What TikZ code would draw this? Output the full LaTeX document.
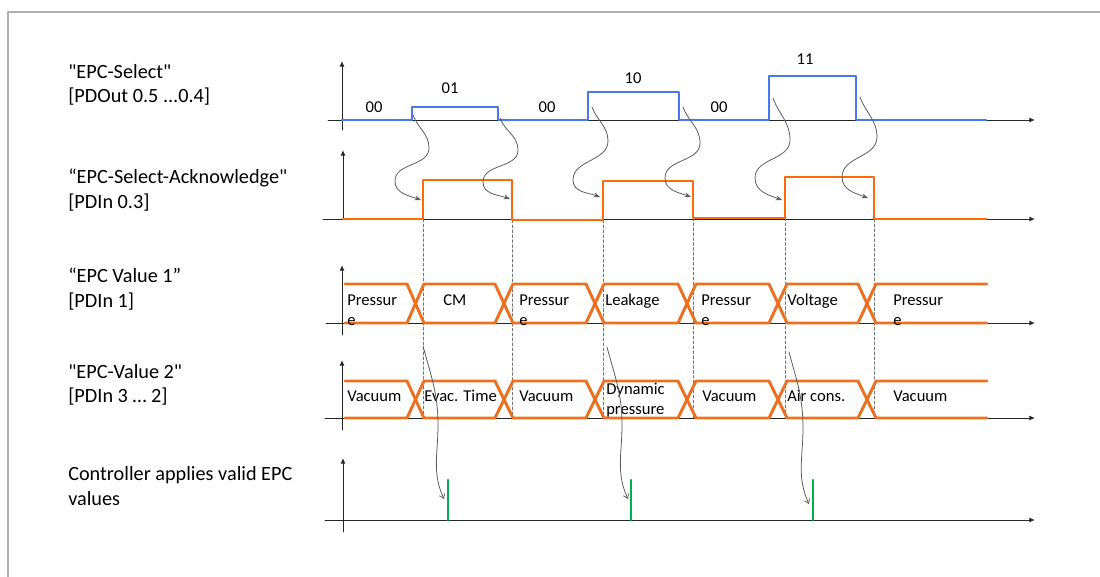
\documentclass[tikz,border=0pt]{standalone}
\usepackage{fontspec}
\setmainfont{Carlito}[Ligatures=TeXOff]
\usetikzlibrary{arrows.meta}
\definecolor{selblue}{RGB}{70,120,240}
\definecolor{ackorange}{RGB}{255,105,10}
\definecolor{busorange}{RGB}{236,112,32}
\definecolor{applygreen}{RGB}{0,176,80}
\definecolor{framegray}{RGB}{175,175,175}
\newcommand\namefont{\fontsize{14.4}{17.5}\selectfont}
\newcommand\wavefont{\fontsize{11.8}{14.2}\selectfont}
\tikzset{frame/.style={draw=framegray,line width=1pt},
 timeaxis/.style={draw=black!85,line width=.7pt,-{Latex[length=4pt,width=3.5pt]}},
 guide/.style={draw=black!55,line width=.5pt,dash pattern=on 2pt off 1.5pt},
 selwave/.style={draw=selblue,line width=1.8pt},
 ackwave/.style={draw=ackorange,line width=2.1pt},
 bus/.style={draw=busorange,line width=2.1pt},
 pulse/.style={draw=applygreen,line width=1.5pt},
 cause/.style={draw=black!65,line width=.55pt,-{Stealth[length=4.5pt,width=3.5pt]}},
 apply/.style={draw=black!65,line width=.55pt,-{Straight Barb[length=3pt,width=4pt]}},
 signame/.style={font=\namefont,align=left,inner sep=0pt,anchor=west},
 wavetext/.style={font=\wavefont,inner sep=0pt,anchor=base west},
 wavetwo/.style={font=\wavefont,align=left,inner sep=0pt,anchor=west},
 bitval/.style={font=\wavefont,inner sep=0pt,anchor=base},
 every picture/.style={line join=round,line cap=round}}
\begin{document}
\begin{tikzpicture}[x=0.025cm,y=-0.025cm]
\useasboundingbox (0,0) rectangle (1100,577);
\draw[frame] (1100,12) -- (8,12) -- (8,577);
% signal names
\node[signame] (nSel) at (68,85) {"EPC-Select"\\{[PDOut 0.5 ...0.4]}};
\node[signame] (nAck) at (68,190) {“EPC-Select-Acknowledge"\\{[PDIn 0.3]}};
\node[signame] (nVal1) at (68,289) {“EPC Value 1”\\{[PDIn 1]}};
\node[signame] (nVal2) at (68,385) {"EPC-Value 2"\\{[PDIn 3 … 2]}};
\node[signame] (nCtrl) at (68,486) {Controller applies valid EPC\\values};
% axes
\draw[timeaxis] (342,130) -- (342,61);
\draw[timeaxis] (328,120) -- (1035,120);
\draw[timeaxis] (343,219) -- (343,150);
\draw[timeaxis] (323,219) -- (1035,219);
\draw[timeaxis] (342,335) -- (342,265);
\draw[timeaxis] (326,323) -- (1035,323);
\draw[timeaxis] (342,430) -- (342,360);
\draw[timeaxis] (325,418) -- (1035,418);
\draw[timeaxis] (343,532) -- (343,458);
\draw[timeaxis] (325,520) -- (1035,520);
% acknowledge edges
\draw[guide] (423,219) -- (423,414);
\draw[guide] (512,220) -- (512,418);
\draw[guide] (603,220) -- (603,418);
\draw[guide] (693,218) -- (693,418);
\draw[guide] (785,218) -- (785,418);
\draw[guide] (874,219) -- (874,418);
% EPC-Select
\draw[selwave] (342,120) -- (412,120) -- (412,107) -- (498,107) -- (498,120) -- (588,120) -- (588,92) -- (679,92) -- (679,120) -- (769,120) -- (769,76) -- (856,76) -- (856,120) -- (986,120);
\node[bitval] (b00a) at (374,113) {00};
\node[bitval] (b01) at (450,94) {01};
\node[bitval] (b00b) at (547,113) {00};
\node[bitval] (b10) at (633,84) {10};
\node[bitval] (b00c) at (719,113) {00};
\node[bitval] (b11) at (805,65) {11};
% EPC-Select-Acknowledge
\draw[ackwave] (343,219) -- (423,219) -- (423,180) -- (512,180) -- (512,220) -- (603,220) -- (603,181) -- (693,181) -- (693,218) -- (785,218) -- (785,177) -- (874,177) -- (874,219) -- (986,219);
% EPC value 1
\draw[bus] (345,284) -- (407,284) -- (424,323) -- (495,323) -- (513,284) -- (586,284) -- (604,323) -- (678,323) -- (696,284) -- (769,284) -- (787,323) -- (858,323) -- (876,284) -- (987,284);
\draw[bus] (345,323) -- (407,323) -- (424,284) -- (495,284) -- (513,323) -- (586,323) -- (604,284) -- (678,284) -- (696,323) -- (769,323) -- (787,284) -- (858,284) -- (876,323) -- (987,323);
\node[wavetwo] (v1a) at (347,310) {Pressur\\e};
\node[wavetext] (v1b) at (443,305) {CM};
\node[wavetwo] (v1c) at (519,310) {Pressur\\e};
\node[wavetext] (v1d) at (605,305) {Leakage};
\node[wavetwo] (v1e) at (701,310) {Pressur\\e};
\node[wavetext] (v1f) at (787,305) {Voltage};
\node[wavetwo] (v1g) at (893,310) {Pressur\\e};
% EPC value 2
\draw[bus] (345,381) -- (407,381) -- (424,418) -- (495,418) -- (513,381) -- (586,381) -- (604,418) -- (678,418) -- (696,381) -- (769,381) -- (787,418) -- (858,418) -- (876,381) -- (987,381);
\draw[bus] (345,418) -- (407,418) -- (424,381) -- (495,381) -- (513,418) -- (586,418) -- (604,381) -- (678,381) -- (696,418) -- (769,418) -- (787,381) -- (858,381) -- (876,418) -- (987,418);
\node[wavetext] (v2a) at (347,401) {Vacuum};
\node[wavetext] (v2b) at (424,401) {Evac. Time};
\node[wavetext] (v2c) at (519,401) {Vacuum};
\node[wavetwo] (v2d) at (606,400) {Dynamic\\pressure};
\node[wavetext] (v2e) at (702,401) {Vacuum};
\node[wavetext] (v2f) at (787,401) {Air cons.};
\node[wavetext] (v2g) at (893,401) {Vacuum};
% controller applies values
\draw[pulse] (448,520) -- (448,480);
\draw[pulse] (631,520) -- (631,480);
\draw[pulse] (813,520) -- (813,480);
% select -> acknowledge
\coordinate (rq1) at (413,115); \coordinate (ak1) at (421,200);
\coordinate (rq2) at (500,118); \coordinate (ak2) at (510,199);
\coordinate (rq3) at (592,107); \coordinate (ak3) at (600,197);
\coordinate (rq4) at (683,107); \coordinate (ak4) at (691,197);
\coordinate (rq5) at (773,98); \coordinate (ak5) at (782,200);
\coordinate (rq6) at (860,97); \coordinate (ak6) at (868,198);
\draw[cause] (rq1) to[out=-70,in=90] ++(16,33) to[out=-90,in=90] ++(-34,33) to[out=-90,in=160] (ak1);
\draw[cause] (rq2) to[out=-70,in=90] ++(18,32) to[out=-90,in=90] ++(-35,32) to[out=-90,in=160] (ak2);
\draw[cause] (rq3) to[out=-70,in=90] ++(16,34) to[out=-90,in=90] ++(-35,39) to[out=-90,in=160] (ak3);
\draw[cause] (rq4) to[out=-70,in=90] ++(17,36) to[out=-90,in=90] ++(-35,35) to[out=-90,in=160] (ak4);
\draw[cause] (rq5) to[out=-70,in=90] ++(17,42) to[out=-90,in=90] ++(-35,38) to[out=-90,in=160] (ak5);
\draw[cause] (rq6) to[out=-70,in=90] ++(17,40) to[out=-90,in=90] ++(-35,40) to[out=-90,in=160] (ak6);
% values -> controller
\coordinate (vd1) at (423,346); \coordinate (ap1) at (444,499);
\coordinate (vd2) at (607,347); \coordinate (ap2) at (628,499);
\coordinate (vd3) at (789,352); \coordinate (ap3) at (809,504);
\draw[apply] (vd1) to[out=-75,in=90] ++(15,79) to[out=-90,in=115] (ap1);
\draw[apply] (vd2) to[out=-75,in=90] ++(15,78) to[out=-90,in=115] (ap2);
\draw[apply] (vd3) to[out=-75,in=90] ++(14,76) to[out=-90,in=115] (ap3);
\end{tikzpicture}
\end{document}
